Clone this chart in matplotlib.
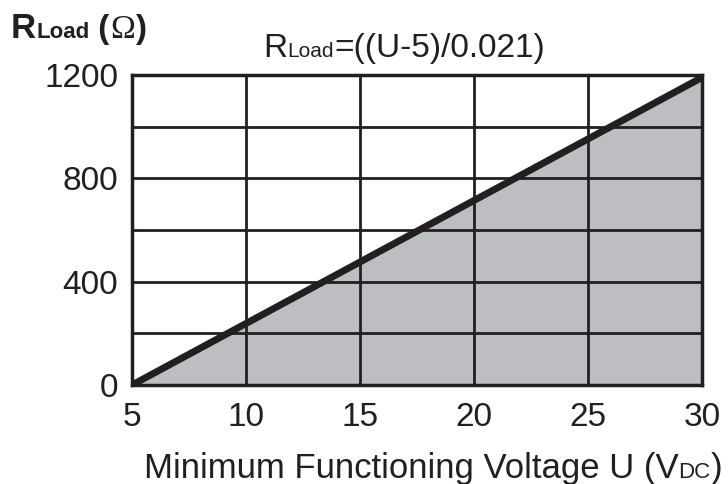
import matplotlib
matplotlib.use('Agg')
from matplotlib import pyplot as plt

plt.rcParams['font.family'] = ['Liberation Sans', 'DejaVu Sans']

# данные
voltage = [5, 30]
r_load = [(u - 5) / 0.021 for u in voltage]
x_ticks = [5, 10, 15, 20, 25, 30]
y_ticks = [0, 400, 800, 1200]
y_grid = [200, 600, 1000]

INK = '#231f20'
fig = plt.figure(figsize=(7.28, 4.84), dpi=100)
ax = fig.add_axes([132 / 728, 1 - 385 / 484, (702 - 132) / 728, (385 - 75) / 484])

ax.fill_between(voltage, r_load, 0, color='#bdbec2', lw=0, zorder=1)
for x in x_ticks:
    ax.axvline(x, color=INK, lw=2, zorder=2)
for y in y_ticks + y_grid:
    ax.axhline(y, color=INK, lw=2, zorder=2)
ax.plot(voltage, r_load, color=INK, lw=5, solid_capstyle='butt', zorder=3)

ax.set_xlim(5, 30)
ax.set_ylim(0, 1200)
ax.set_xticks(x_ticks)
ax.set_yticks(y_ticks)
ax.tick_params(length=0, labelsize=24, colors=INK)
ax.tick_params(axis='x', pad=12)
ax.tick_params(axis='y', pad=10)
for s in ax.spines.values():
    s.set_linewidth(2.5)
    s.set_color(INK)


def runs(x, y, parts, ha='left'):
    # рисуем текст кусками: (текст, размер, жирный, семейство)
    r = fig.canvas.get_renderer()
    objs = []
    cx = x
    for txt, size, bold, fam in parts:
        t = fig.text(cx, y, txt, fontsize=size, fontweight='bold' if bold else 'normal',
                     family=fam, color=INK, va='baseline', ha='left', transform=None)
        w = t.get_window_extent(renderer=r).width
        objs.append(t)
        cx += w
    if ha == 'center':
        total = cx - x
        for t in objs:
            px, py = t.get_position()
            t.set_position((px - total / 2, py))


S = ['Liberation Sans', 'DejaVu Sans']
H = 484
runs(11, H - 38, [('R', 25, True, S), ('Load', 16, True, S), (' (', 24, True, S),
                  ('Ω', 24, False, ['Liberation Serif', 'DejaVu Serif']), (')', 24, True, S)])
runs(404, H - 57, [('R', 24, False, S), ('Load', 15, False, S), ('=((U-5)/0.021)', 24, False, S)], ha='center')
runs(433, H - 478, [('Minimum Functioning Voltage U (V', 25, False, S), ('DC', 16, False, S),
                    (')', 25, False, S)], ha='center')

fig.savefig('out.png', dpi=100)
